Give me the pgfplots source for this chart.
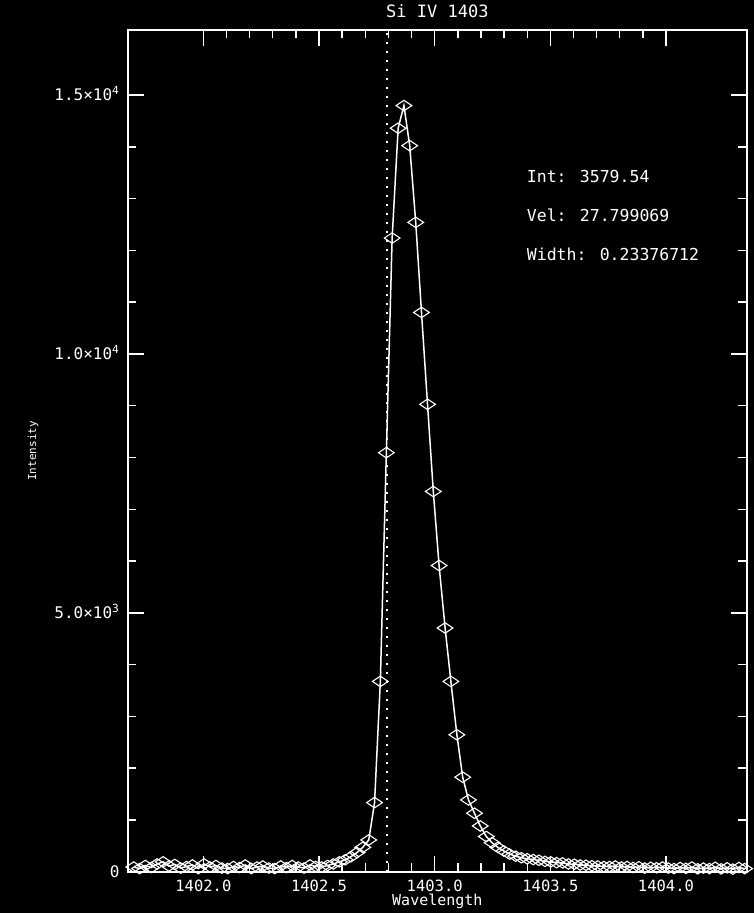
\documentclass[border=0pt]{standalone}
\usepackage{pgfplots}
\pgfplotsset{compat=1.18}
\usepackage{fontspec}
\setmainfont{DejaVu Sans Mono}

\pgfplotstableread{
lam I
1401.699 90
1401.724 60
1401.749 120
1401.775 80
1401.800 150
1401.826 190
1401.851 110
1401.876 140
1401.902 70
1401.927 100
1401.953 130
1401.978 60
1402.003 150
1402.029 90
1402.054 120
1402.080 70
1402.105 60
1402.130 100
1402.156 80
1402.181 130
1402.207 60
1402.232 90
1402.257 110
1402.283 70
1402.308 60
1402.334 110
1402.359 80
1402.384 120
1402.410 90
1402.435 70
1402.461 130
1402.486 100
1402.511 90
1402.537 120
1402.562 150
1402.588 190
1402.613 230
1402.638 290
1402.664 370
1402.689 470
1402.715 613
1402.740 1335
1402.765 3675
1402.791 8093
1402.816 12238
1402.842 14360
1402.867 14797
1402.892 14023
1402.918 12541
1402.943 10801
1402.969 9027
1402.994 7344
1403.019 5913
1403.045 4707
1403.070 3675
1403.096 2644
1403.121 1826
1403.146 1387
1403.172 1130
1403.197 884
1403.223 680
1403.248 560
1403.273 470
1403.299 400
1403.324 340
1403.350 300
1403.375 270
1403.400 250
1403.426 235
1403.451 220
1403.477 200
1403.502 190
1403.527 175
1403.553 170
1403.578 150
1403.604 145
1403.629 130
1403.654 125
1403.680 115
1403.705 110
1403.731 100
1403.756 100
1403.781 110
1403.807 90
1403.832 100
1403.858 80
1403.883 95
1403.908 70
1403.934 85
1403.959 75
1403.985 90
1404.010 70
1404.035 60
1404.061 80
1404.086 65
1404.112 90
1404.137 55
1404.162 70
1404.188 60
1404.213 85
1404.239 55
1404.264 75
1404.289 50
1404.315 80
1404.340 60
}\spec

\begin{document}
\begin{tikzpicture}
\fill[black] (0,0) rectangle (754pt,913pt);
\begin{axis}[
  at={(128pt,41.3pt)}, anchor=south west,
  scale only axis, width=618.7pt, height=841.7pt,
  xmin=1401.674, xmax=1404.349, ymin=0, ymax=16257,
  axis line style={white, line width=1.6pt},
  every tick/.style={white, line width=1.4pt},
  major tick length=16pt, minor tick length=8.5pt,
  tick align=inside,
  xtick={1402,1402.5,1403,1403.5,1404},
  xticklabels={1402.0,1402.5,1403.0,1403.5,1404.0},
  minor x tick num=4,
  ytick={0,5000,10000,15000},
  yticklabels={0,5.0×10\textsuperscript{3},1.0×10\textsuperscript{4},1.5×10\textsuperscript{4}},
  minor y tick num=4,
  scaled ticks=false,
  xticklabel style={white, font=\fontsize{15.5}{15.5}\selectfont, anchor=center, inner sep=0pt, yshift=-14.5pt},
  yticklabel style={white, font=\fontsize{16}{16}\selectfont, anchor=base east, yshift=-5.8pt, xshift=-5pt},
  title={Si IV 1403},
  title style={white, font=\fontsize{17}{17}\selectfont, at={(axis description cs:0.5,1.0149)}, anchor=center},
  xlabel={Wavelength},
  xlabel style={white, font=\fontsize{15}{15}\selectfont, inner sep=0pt, at={(axis description cs:0.5,-0.0357)}, anchor=center},
  ylabel={Intensity},
  ylabel style={white, font=\fontsize{11}{11}\selectfont, at={(axis description cs:-0.1535,0.5)}, anchor=center},
  clip=true,
]
\addplot[white, line width=2pt, dash pattern=on 2pt off 7pt] coordinates {(1402.795,0) (1402.795,16257)};
\addplot[white, line width=1.5pt, mark=diamond, mark size=5.25pt, mark options={solid, xscale=2.0, line width=1.1pt}] table[x=lam, y=I] {\spec};
\node[anchor=west, inner sep=0pt, text=white, font=\fontsize{16.5}{16.5}\selectfont] at (axis cs:1403.398,13418) {Int: 3579.54};
\node[anchor=west, inner sep=0pt, text=white, font=\fontsize{16.5}{16.5}\selectfont] at (axis cs:1403.398,12683) {Vel: 27.799069};
\node[anchor=west, inner sep=0pt, text=white, font=\fontsize{16.5}{16.5}\selectfont] at (axis cs:1403.398,11929) {Width: 0.23376712};
\end{axis}
\end{tikzpicture}
\end{document}
